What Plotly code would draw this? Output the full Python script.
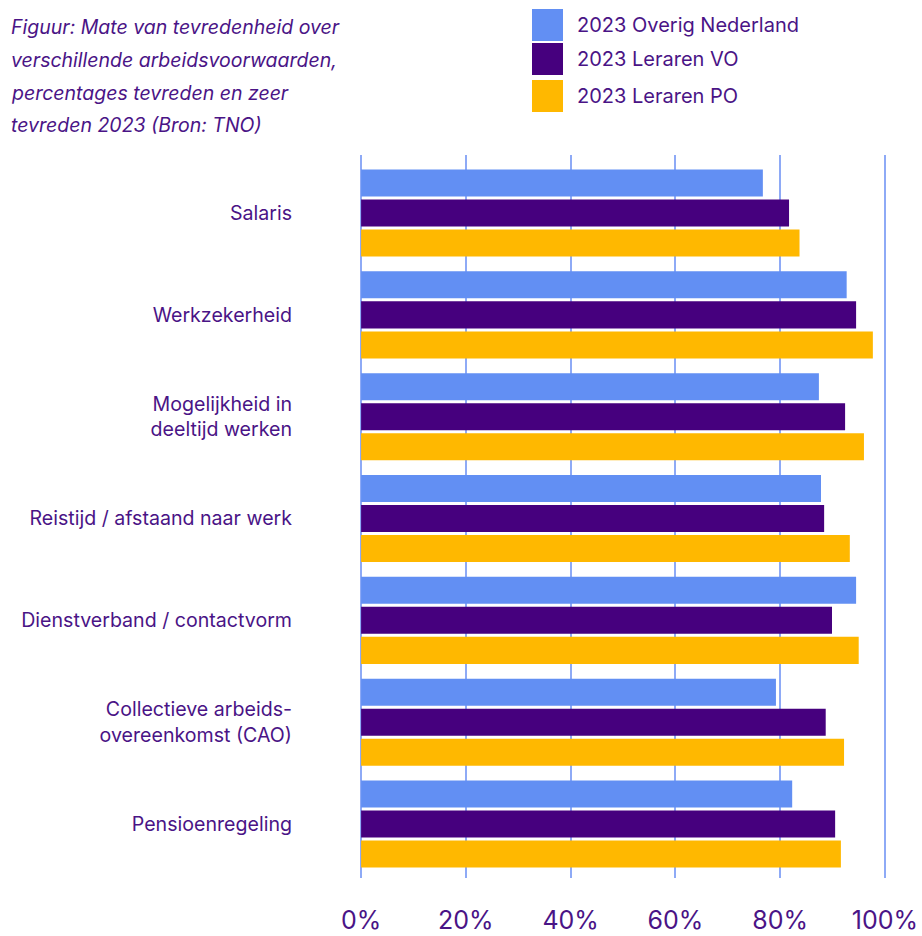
import plotly.graph_objects as go

# Arbeidsvoorwaarden (y-categorieën, van boven naar beneden)
categories = [
    "Salaris",
    "Werkzekerheid",
    "Mogelijkheid in<br>deeltijd werken",
    "Reistijd / afstaand naar werk",
    "Dienstverband / contactvorm",
    "Collectieve arbeids-<br>overeenkomst (CAO)",
    "Pensioenregeling",
]

series_names = ["2023 Overig Nederland", "2023 Leraren VO", "2023 Leraren PO"]

# Percentage tevreden en zeer tevreden
overig_nederland = [76.7, 92.7, 87.4, 87.8, 94.5, 79.2, 82.3]
leraren_vo = [81.7, 94.5, 92.4, 88.4, 89.9, 88.7, 90.5]
leraren_po = [83.7, 97.7, 96.0, 93.3, 95.0, 92.2, 91.6]

x_ticks = [0, 20, 40, 60, 80, 100]
x_tick_labels = [f"{v}%" for v in x_ticks]

title_lines = [
    "Figuur: Mate van tevredenheid over",
    "verschillende arbeidsvoorwaarden,",
    "percentages tevreden en zeer",
    "tevreden 2023 (Bron: TNO)",
]

colors = ["#628FF3", "#46007E", "#FFB800"]
text_color = "#4A1486"
grid_color = "#8EAAF6"
font_family = "Inter, Roboto, sans-serif"

W, H = 922, 936
M_L, M_R, M_T, M_B = 359, 35, 155, 58
PLOT_W = W - M_L - M_R
PLOT_H = H - M_T - M_B


def px_x(x):
    """Page pixel column -> paper x."""
    return (x - M_L) / PLOT_W


def px_y(y):
    """Page pixel row -> paper y."""
    return (H - M_B - y) / PLOT_H


fig = go.Figure()
for name, values, color in zip(series_names, [overig_nederland, leraren_vo, leraren_po], colors):
    fig.add_trace(go.Bar(
        y=categories,
        x=values,
        name=name,
        orientation="h",
        marker=dict(color=color, line=dict(width=0)),
        showlegend=False,
        hovertemplate="%{y}: %{x:.1f}%<extra>" + name + "</extra>",
    ))

# Legend drawn as colour blocks with labels
legend_rows = [(9, 41), (43, 75), (80, 112)]
for (y0, y1), name, color in zip(legend_rows, series_names, colors):
    fig.add_shape(
        type="rect", xref="paper", yref="paper",
        x0=px_x(532), x1=px_x(563), y0=px_y(y1), y1=px_y(y0),
        line=dict(width=0), fillcolor=color,
    )
    fig.add_annotation(
        xref="paper", yref="paper",
        x=px_x(575), y=px_y((y0 + y1) / 2),
        text=name, showarrow=False, xanchor="left", yanchor="middle",
        font=dict(family=font_family, size=20, color=text_color),
    )

# Title, one annotation per line for the wider line spacing
title_rows = [27, 60, 93, 125]
for line, row in zip(title_lines, title_rows):
    fig.add_annotation(
        xref="paper", yref="paper",
        x=px_x(9), y=px_y(row),
        text="<i>" + line + "</i>", showarrow=False,
        xanchor="left", yanchor="middle",
        font=dict(family=font_family, size=19.5, color=text_color),
    )

fig.update_layout(
    width=W, height=H,
    margin=dict(l=M_L, r=M_R, t=M_T, b=M_B, autoexpand=False),
    paper_bgcolor="white", plot_bgcolor="white",
    barmode="group", bargap=0.116, bargroupgap=0.1,
    font=dict(family=font_family, color=text_color),
)

fig.update_xaxes(
    range=[-0.4, 100.4], tickvals=x_ticks, ticktext=x_tick_labels,
    showgrid=True, gridcolor=grid_color, gridwidth=1.5,
    zeroline=False, showline=False, ticks="",
    tickfont=dict(family=font_family, size=25, color=text_color),
    ticklabelstandoff=25, automargin=False, fixedrange=True,
)
fig.update_yaxes(
    categoryorder="array", categoryarray=categories,
    range=[6.53, -0.57], showgrid=False, zeroline=False, showline=False,
    ticks="", tickfont=dict(family=font_family, size=19.6, color=text_color),
    ticklabelstandoff=66, automargin=False, fixedrange=True,
)

fig.write_html("out.html", config={"displayModeBar": False})
